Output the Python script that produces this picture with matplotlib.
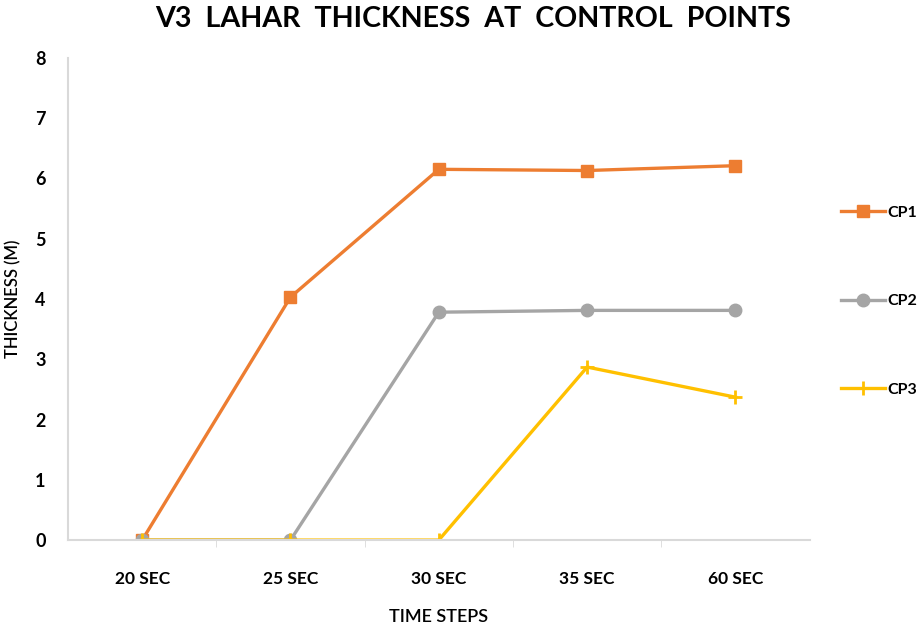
import numpy as np
import matplotlib.pyplot as plt

# Data
time_steps = ['20 SEC', '25 SEC', '30 SEC', '35 SEC', '60 SEC']
cp1 = [0, 4.03, 6.15, 6.13, 6.21]
cp2 = [0, 0, 3.78, 3.81, 3.81]
cp3 = [0, 0, 0, 2.87, 2.37]

plt.rcParams['font.family'] = ['Lato', 'DejaVu Sans']

fig = plt.figure(figsize=(9.19, 6.28), dpi=100)
ax = fig.add_axes([0.074, 0.140, 0.807, 0.768])

x = np.arange(len(time_steps))
ax.plot(x, cp1, color='#ED7D31', lw=2.4, marker='s', ms=8, label='CP1')
ax.plot(x, cp2, color='#A5A5A5', lw=2.4, marker='o', ms=9, label='CP2')
ax.plot(x, cp3, color='#FFC000', lw=2.4, marker='+', ms=10, mew=2, label='CP3')

ax.set_xlim(-0.5, len(time_steps) - 0.5)
ax.set_ylim(0, 8)
ax.set_yticks(range(0, 9))
ax.set_xticks(x)
ax.set_xticklabels(time_steps)
ax.set_xticks(np.arange(0.5, len(time_steps) - 1, 1), minor=True)
ax.tick_params(axis='x', which='major', length=0, pad=22, labelsize=12.5)
ax.tick_params(axis='x', which='minor', length=5, color='#D9D9D9', direction='out')
ax.tick_params(axis='y', length=0, pad=16, labelsize=13)
for lbl in ax.get_xticklabels() + ax.get_yticklabels():
    lbl.set_fontweight('bold')

for s in ['top', 'right']:
    ax.spines[s].set_visible(False)
ax.spines['left'].set_color('#D9D9D9')
ax.spines['bottom'].set_color('#D9D9D9')
ax.spines['left'].set_linewidth(1.5)
ax.spines['bottom'].set_linewidth(1.5)

ax.set_xlabel('TIME STEPS', fontsize=13, fontweight='semibold', labelpad=16)
ax.set_ylabel('THICKNESS (M)', fontsize=12, fontweight='semibold', labelpad=10)
fig.suptitle('V3  LAHAR  THICKNESS  AT  CONTROL  POINTS', x=0.515, y=0.99,
             fontsize=20.6, fontweight='bold')

ax.legend(loc='center left', bbox_to_anchor=(1.029, 0.495), frameon=False,
          prop={'weight': 'bold', 'size': 11.5}, labelspacing=4.65,
          handlelength=2.8, handletextpad=0.15, borderaxespad=0.2)

fig.savefig('out.png', dpi=100)
